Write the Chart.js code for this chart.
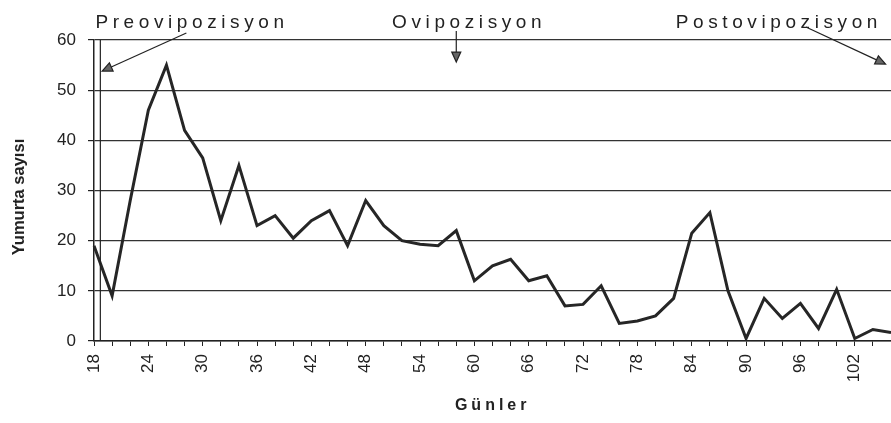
<!DOCTYPE html>
<html>
<head>
<meta charset="utf-8">
<script src="https://cdn.jsdelivr.net/npm/chart.js@4"></script>
<style>
  html, body { margin: 0; padding: 0; background: #fff; }
  #wrap { width: 891px; height: 423px; position: relative; }
</style>
</head>
<body>
<div id="wrap"><canvas id="myChart"></canvas></div>
<script>
// days (every 2nd day), egg counts
const days = [
  18, 20, 22, 24, 26, 28, 30, 32, 34, 36,
  38, 40, 42, 44, 46, 48, 50, 52, 54, 56,
  58, 60, 62, 64, 66, 68, 70, 72, 74, 76,
  78, 80, 82, 84, 86, 88, 90, 92, 94, 96,
  98, 100, 102, 104, 106
];

const eggs = [
  19, 9, 28, 46, 55, 42, 36.5, 24, 35, 23,
  25, 20.5, 24, 26, 19, 28, 23, 20, 19.3, 19,
  22, 12, 15, 16.3, 12, 13, 7, 7.3, 11, 3.5,
  4, 5, 8.5, 21.5, 25.6, 10, 0.5, 8.5, 4.5, 7.5,
  2.5, 10.3, 0.5, 2.3, 1.7
];

const yTicks = [0, 10, 20, 30, 40, 50, 60];

const xTitle = 'Günler';
const yTitle = 'Yumurta sayısı';

// phase labels with arrows: [text, text centre (x index), arrow from [idx, val], arrow tip [idx, val]]
const phases = [
  ['Preovipozisyon', 5.3, [5.1, 61.4], [0.45, 53.8]],
  ['Ovipozisyon', 20.6, [20.0, 61.8], [20.0, 55.6]],
  ['Postovipozisyon', 37.7, [39.3, 62.6], [43.7, 55.2]]
];

const FONT = '"Liberation Sans", Arial, sans-serif';
const INK = '#222';

const phasePlugin = {
  id: 'phases',
  afterDraw(chart) {
    const ctx = chart.ctx;
    const x = chart.scales.x, y = chart.scales.y;
    const area = chart.chartArea;
    const spacing = (px) => { if ('letterSpacing' in ctx) ctx.letterSpacing = px; };
    ctx.save();

    // second vertical line next to the y axis (preovipozisyon marker)
    ctx.strokeStyle = INK;
    ctx.lineWidth = 1.2;
    const mx = x.getPixelForValue(0.35);
    ctx.beginPath();
    ctx.moveTo(mx, area.top);
    ctx.lineTo(mx, area.bottom);
    ctx.stroke();

    ctx.fillStyle = INK;
    ctx.textAlign = 'center';
    ctx.textBaseline = 'alphabetic';

    // phase names
    ctx.font = '19px ' + FONT;
    spacing('4.6px');
    phases.forEach(p => {
      ctx.fillText(p[0], x.getPixelForValue(p[1]) + 2, area.top - 12);
    });

    // axis titles
    ctx.font = 'bold 16px ' + FONT;
    spacing('4px');
    ctx.textBaseline = 'middle';
    ctx.fillText(xTitle, x.getPixelForValue(21.9) + 2, 406);
    spacing('0px');
    ctx.save();
    ctx.translate(19, y.getPixelForValue(28.7));
    ctx.rotate(-Math.PI / 2);
    ctx.font = 'bold 16.5px ' + FONT;
    ctx.fillText(yTitle, 0, 0);
    ctx.restore();

    // arrows
    phases.forEach(p => {
      const x0 = x.getPixelForValue(p[2][0]), y0 = y.getPixelForValue(p[2][1]);
      const x1 = x.getPixelForValue(p[3][0]), y1 = y.getPixelForValue(p[3][1]);
      const ang = Math.atan2(y1 - y0, x1 - x0);
      const len = 10, half = 4.5;
      const bx = x1 - len * Math.cos(ang), by = y1 - len * Math.sin(ang);
      ctx.strokeStyle = INK;
      ctx.lineWidth = 1.2;
      ctx.beginPath();
      ctx.moveTo(x0, y0);
      ctx.lineTo(bx, by);
      ctx.stroke();
      ctx.beginPath();
      ctx.moveTo(x1, y1);
      ctx.lineTo(bx + half * Math.sin(ang), by - half * Math.cos(ang));
      ctx.lineTo(bx - half * Math.sin(ang), by + half * Math.cos(ang));
      ctx.closePath();
      ctx.fillStyle = '#666';
      ctx.fill();
      ctx.stroke();
    });
    ctx.restore();
  }
};

const data = {
  labels: days,
  datasets: [{
    label: yTitle,
    data: eggs,
    borderColor: '#262626',
    borderWidth: 3,
    pointRadius: 0,
    tension: 0,
    fill: false
  }]
};

const config = {
  type: 'line',
  data: data,
  options: {
    responsive: true,
    maintainAspectRatio: false,
    animation: false,
    layout: { padding: { top: 40, right: 0, left: 0, bottom: 0 } },
    plugins: {
      legend: { display: false },
      tooltip: { enabled: false }
    },
    scales: {
      x: {
        type: 'category',
        offset: false,
        grid: {
          drawOnChartArea: false,
          color: INK,
          tickLength: 5,
          tickWidth: 1
        },
        border: { color: INK, width: 1.5 },
        ticks: {
          autoSkip: false,
          minRotation: 90,
          maxRotation: 90,
          padding: 8,
          color: INK,
          font: { family: FONT, size: 17 },
          callback: (v, i) => (i % 3 === 0 ? String(days[i]) : '')
        },
        afterFit(s) {
          s.height = 82;
          s.paddingLeft = 0;
          s.paddingRight = 0;
        }
      },
      y: {
        min: 0,
        max: 60,
        grid: {
          color: '#333',
          lineWidth: 1.2,
          tickLength: 6,
          tickColor: INK
        },
        border: { color: INK, width: 1.5 },
        afterBuildTicks(s) {
          s.ticks = yTicks.map(v => ({ value: v }));
        },
        ticks: {
          padding: 12,
          color: INK,
          font: { family: FONT, size: 17 }
        },
        afterFit(s) {
          s.width = 94;
        }
      }
    }
  },
  plugins: [phasePlugin]
};

const myChart = new Chart(document.getElementById('myChart'), config);
</script>
</body>
</html>
